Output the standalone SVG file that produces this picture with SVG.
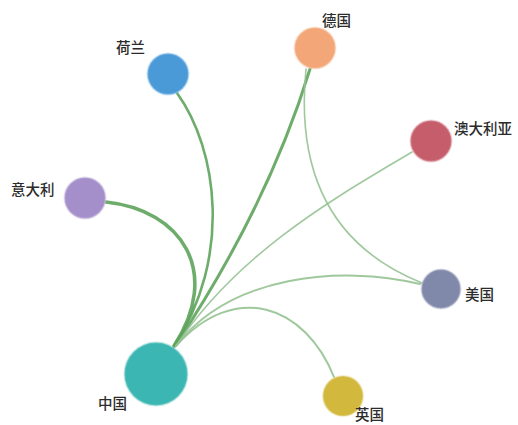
<svg xmlns="http://www.w3.org/2000/svg" width="518" height="425" viewBox="0 0 518 425">
<style>
.edge{fill:none;stroke-linecap:round}
.e1{stroke:#5ea35c;stroke-opacity:0.9}
.e2{stroke:#96c292;stroke-opacity:0.9}
.node{stroke-width:2;stroke-opacity:0.45}
.label{font-family:"Noto Sans CJK SC","Noto Sans",sans-serif;font-size:14.5px;font-weight:500;fill:#2b2b2b}
</style>
<rect width="518" height="425" fill="#ffffff"/>
<g id="connectors">
<path class="edge e1" stroke-width="3.6" d="M106,202 C182,210 222,272 174,346"/>
<path class="edge e1" stroke-width="2.6" d="M177,93 C218,150 232,258 174,346"/>
<path class="edge e1" stroke-width="3" d="M310,69 Q268,206 175,346"/>
<path class="edge e2" stroke-width="1.6" d="M306,69 C298,150 315,240 422,283"/>
<path class="edge e2" stroke-width="1.6" d="M412,152 C340,195 240,250 176,346"/>
<path class="edge e2" stroke-width="2" d="M420,284 C340,265 230,275 176,346"/>
<path class="edge e2" stroke-width="2" d="M334,377 C305,305 235,280 176,346"/>
</g>
<g id="node-china">
<circle class="node" cx="156" cy="374" r="31.5" fill="#3cb6b2" stroke="#7fd0cc"/>
<text class="label" x="98" y="409">中国</text>
</g>
<g id="node-netherlands">
<circle class="node" cx="168" cy="74" r="20.5" fill="#4a9ad8" stroke="#8cc1ea"/>
<text class="label" x="116" y="53">荷兰</text>
</g>
<g id="node-germany">
<circle class="node" cx="315" cy="48" r="20.5" fill="#f3a677" stroke="#f8cbb0"/>
<text class="label" x="322" y="26">德国</text>
</g>
<g id="node-australia">
<circle class="node" cx="431" cy="141" r="20.5" fill="#c65d6b" stroke="#dd9ba3"/>
<text class="label" x="454" y="134">澳大利亚</text>
</g>
<g id="node-italy">
<circle class="node" cx="85" cy="198" r="20.5" fill="#a48fca" stroke="#c8bbe0"/>
<text class="label" x="11" y="195">意大利</text>
</g>
<g id="node-usa">
<circle class="node" cx="441" cy="289" r="19.5" fill="#8089aa" stroke="#b3b9cf"/>
<text class="label" x="465" y="300">美国</text>
</g>
<g id="node-uk">
<circle class="node" cx="343" cy="396" r="20" fill="#d2b83c" stroke="#e6d588"/>
<text class="label" x="355" y="420">英国</text>
</g>
</svg>
